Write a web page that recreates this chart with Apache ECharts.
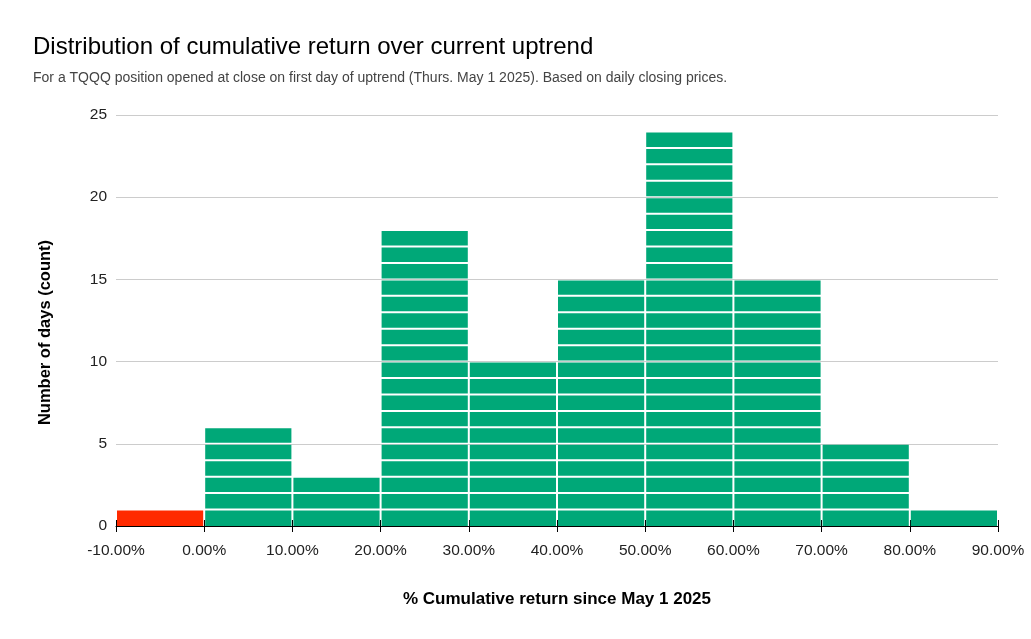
<!DOCTYPE html>
<html>
<head>
<meta charset="utf-8">
<script src="https://cdn.jsdelivr.net/npm/echarts@6/dist/echarts.min.js"></script>
<style>
html,body{margin:0;padding:0;background:#fff;}
#chart{width:1031px;height:639px;}
</style>
</head>
<body>
<div id="chart"></div>
<script>
// Bin edges (% cumulative return) and counts (days)
var binStarts = [-10, 0, 10, 20, 30, 40, 50, 60, 70, 80];
var binEnds   = [0, 10, 20, 30, 40, 50, 60, 70, 80, 90];
var counts    = [1, 6, 3, 18, 10, 15, 24, 15, 5, 1];
var binColors = ['#ff2a00', '#00a878', '#00a878', '#00a878', '#00a878', '#00a878', '#00a878', '#00a878', '#00a878', '#00a878'];
var yTicks = [0, 5, 10, 15, 20, 25];

var titleText = 'Distribution of cumulative return over current uptrend';
var subtitleText = 'For a TQQQ position opened at close on first day of uptrend (Thurs. May 1 2025). Based on daily closing prices.';
var xName = '% Cumulative return since May 1 2025';
var yName = 'Number of days (count)';

// one item per day-unit block
var blocks = [];
for (var i = 0; i < counts.length; i++) {
  for (var k = 0; k < counts[i]; k++) {
    blocks.push([binStarts[i], binEnds[i], k, k + 1, i]);
  }
}

var chart = echarts.init(document.getElementById('chart'));
var font = 'Liberation Sans, Arial, sans-serif';
var xAxisCommon = {
  type: 'value', min: -10, max: 90, interval: 10, position: 'bottom'
};
chart.setOption({
  animation: false,
  title: [{
    text: titleText, left: 33, top: 35, padding: 0,
    textStyle: {fontFamily: font, fontSize: 24, fontWeight: 'normal', color: '#000'}
  }, {
    text: subtitleText, left: 33, top: 71, padding: 0,
    textStyle: {fontFamily: font, fontSize: 14, fontWeight: 'normal', color: '#444'}
  }],
  grid: {left: 116, right: 33, top: 115, bottom: 113, containLabel: false},
  xAxis: [Object.assign({}, xAxisCommon, {
    name: xName, nameLocation: 'middle', nameGap: 65,
    nameTextStyle: {fontFamily: font, fontSize: 17, fontWeight: 'bold', color: '#000'},
    axisLine: {show: true, lineStyle: {color: '#000', width: 1}},
    axisTick: {show: true, length: 6, lineStyle: {color: '#000'}},
    axisLabel: {fontFamily: font, fontSize: 15.5, color: '#222', margin: 17,
      formatter: function (v) { return v.toFixed(2) + '%'; }},
    splitLine: {show: false}
  }), Object.assign({}, xAxisCommon, {
    axisLine: {show: false},
    axisTick: {show: true, inside: true, length: 6, lineStyle: {color: '#000'}},
    axisLabel: {show: false},
    splitLine: {show: false}
  })],
  yAxis: {
    type: 'value', min: 0, max: 25, interval: 5,
    name: yName, nameLocation: 'middle', nameGap: 62,
    nameTextStyle: {fontFamily: font, fontSize: 16.5, fontWeight: 'bold', color: '#000', padding: [0, 24, 0, 0]},
    axisLine: {show: false}, axisTick: {show: false},
    axisLabel: {fontFamily: font, fontSize: 15.5, color: '#222', margin: 9},
    splitLine: {lineStyle: {color: '#cccccc', width: 1}}
  },
  series: [{
    type: 'custom',
    xAxisIndex: 0,
    data: blocks,
    renderItem: function (params, api) {
      var p0 = api.coord([api.value(0), api.value(3)]);
      var p1 = api.coord([api.value(1), api.value(2)]);
      var idx = api.value(4);
      var x = p0[0] + 1, w = p1[0] - p0[0] - 2;
      var y = p0[1] + 1, h = p1[1] - p0[1] - 2;
      if (api.value(2) === 0) { h = p1[1] - p0[1] - 1; }
      return {
        type: 'rect',
        shape: {x: x, y: y, width: w, height: h},
        style: {fill: binColors[idx]}
      };
    }
  }]
});
</script>
</body>
</html>
